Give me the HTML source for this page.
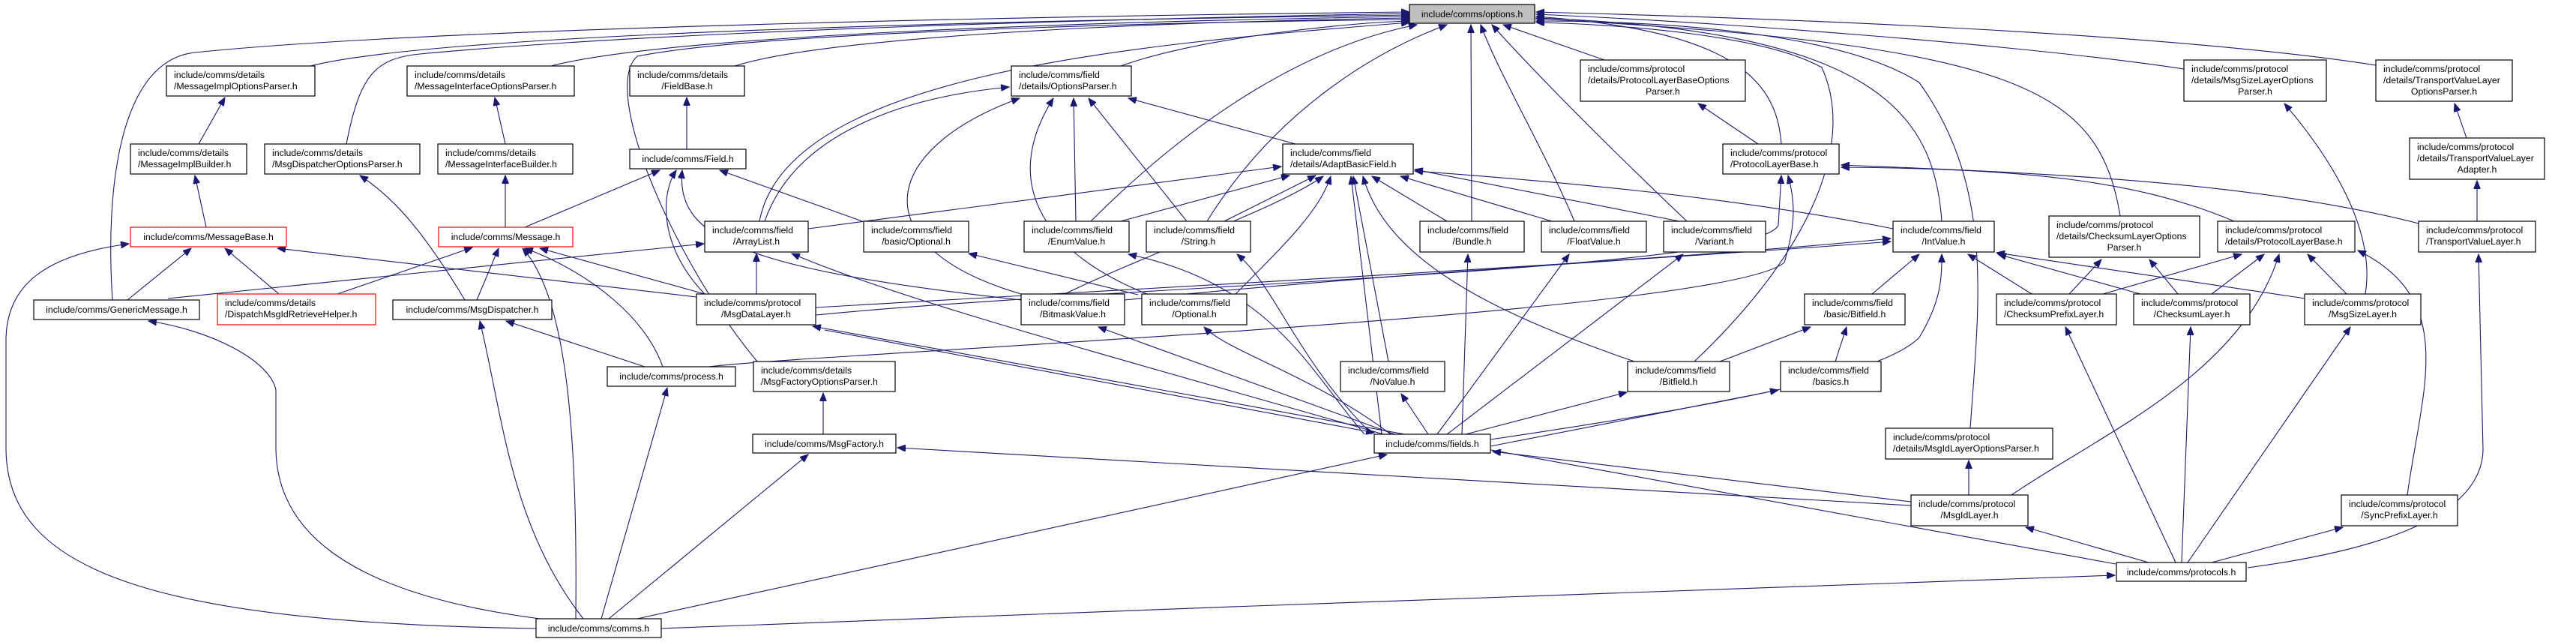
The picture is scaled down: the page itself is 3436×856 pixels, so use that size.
<!DOCTYPE html>
<html><head><meta charset="utf-8"><style>
html,body{margin:0;padding:0;background:#fff;}
svg{display:block;}
text{font-family:"Liberation Sans",Arial,sans-serif;font-size:12.3px;fill:#000;}
.e{fill:none;stroke:#191970;stroke-width:1.1;marker-end:url(#ah);}
.n{fill:#fff;stroke:#000;stroke-width:1.2;}
.r{fill:#fff;stroke:#ff0000;stroke-width:1.2;}
.g{fill:#bfbfbf;stroke:#000;stroke-width:1.2;}
</style></head><body>
<svg width="3436" height="856" viewBox="0 0 3436 856" xmlns="http://www.w3.org/2000/svg">
<defs><marker id="ah" markerWidth="12" markerHeight="9" refX="11" refY="4.5" orient="auto" markerUnits="userSpaceOnUse"><path d="M0,0 L11,4.5 L0,9 z" fill="#191970" stroke="#191970"/></marker></defs>
<g>
<path class="e" d="M414,88 C600,40 1500,25 1880,20"/>
<path class="e" d="M735,88 C900,45 1500,28 1880,22"/>
<path class="e" d="M980,88 C1100,50 1500,30 1880,24"/>
<path class="e" d="M462,192 C480,100 500,78 560,72 C900,40 1500,25 1880,18"/>
<path class="e" d="M150,400 C140,250 160,80 260,70 C600,35 1500,20 1880,16"/>
<path class="e" d="M1010,482 C900,350 800,120 850,75 C1000,45 1500,30 1880,26"/>
<path class="e" d="M1495,88 C1600,50 1800,30 1880,28"/>
<path class="e" d="M1013,295 C1050,100 1500,60 1880,30"/>
<path class="e" d="M1455,295 C1600,150 1750,60 1890,33"/>
<path class="e" d="M1610,295 C1700,150 1830,70 1930,33"/>
<path class="e" d="M1963,295 L1962,33"/>
<path class="e" d="M2100,295 C2060,200 2000,100 1975,33"/>
<path class="e" d="M2250,295 C2150,200 2050,100 1990,33"/>
<path class="e" d="M2140,80 L2005,33"/>
<path class="e" d="M2376,192 C2370,100 2300,40 2049,22"/>
<path class="e" d="M2590,295 C2580,150 2500,40 2049,24"/>
<path class="e" d="M2828,288 C2800,120 2700,60 2049,25"/>
<path class="e" d="M2913,92 C2700,60 2300,30 2049,19"/>
<path class="e" d="M3169,87 C2900,45 2400,25 2049,16"/>
<path class="e" d="M2628,571 C2640,400 2660,250 2560,110 C2450,40 2200,28 2049,28"/>
<path class="e" d="M2260,482 C2400,350 2480,200 2430,90 C2350,45 2150,32 2049,30"/>
<path class="e" d="M265,192 L300,130"/>
<path class="e" d="M275,303 L260,234"/>
<path class="e" d="M674,192 L660,130"/>
<path class="e" d="M674,303 L674,234"/>
<path class="e" d="M916,199 L916,130"/>
<path class="e" d="M700,303 L880,227"/>
<path class="e" d="M1150,295 L960,227"/>
<path class="e" d="M940,392 C880,330 880,260 902,227"/>
<path class="e" d="M1362,400 C1000,360 900,320 910,227"/>
<path class="e" d="M224,398 L939,325"/>
<path class="e" d="M1009,392 L1009,338"/>
<path class="e" d="M1845,579 C1500,480 1200,400 1056,338"/>
<path class="e" d="M1020,295 C1060,180 1200,130 1346,116"/>
<path class="e" d="M170,400 L255,331"/>
<path class="e" d="M372,392 L300,331"/>
<path class="e" d="M929,396 L370,331"/>
<path class="e" d="M715,838 C200,830 10,760 8,600 L8,450 C10,380 60,340 172,325"/>
<path class="e" d="M450,392 L630,330"/>
<path class="e" d="M636,400 L665,331"/>
<path class="e" d="M884,489 C860,420 780,360 700,331"/>
<path class="e" d="M768,825 C770,600 760,400 697,331"/>
<path class="e" d="M940,392 L720,331"/>
<path class="e" d="M620,400 C560,300 520,260 480,234"/>
<path class="e" d="M860,489 L675,428"/>
<path class="e" d="M778,825 C680,700 670,550 640,428"/>
<path class="e" d="M720,825 C450,790 370,700 368,600 L368,520 C360,480 280,440 198,428"/>
<path class="e" d="M802,825 L890,517"/>
<path class="e" d="M945,489 C1100,470 2300,420 2380,350 C2395,300 2395,270 2385,234"/>
<path class="e" d="M1088,420 C1500,380 2350,360 2372,300 L2376,234"/>
<path class="e" d="M1098,579 L1098,524"/>
<path class="e" d="M2549,674 L1197,597"/>
<path class="e" d="M812,825 L1078,606"/>
<path class="e" d="M850,825 L1850,606"/>
<path class="e" d="M882,838 C1500,815 2500,775 2821,767"/>
<path class="e" d="M2822,752 L1084,435"/>
<path class="e" d="M2549,669 L1991,602"/>
<path class="e" d="M1100,440 L1833,577"/>
<path class="e" d="M2626,660 L2626,614"/>
<path class="e" d="M2866,750 L2702,703"/>
<path class="e" d="M2683,660 C2800,580 2990,500 3040,339"/>
<path class="e" d="M3211,660 C3230,520 3280,400 3145,334"/>
<path class="e" d="M2950,750 L3125,703"/>
<path class="e" d="M2902,750 L2755,436"/>
<path class="e" d="M2910,750 L2922,436"/>
<path class="e" d="M2918,750 L3135,436"/>
<path class="e" d="M2998,757 C3200,730 3310,680 3312,600 L3306,339"/>
<path class="e" d="M3304,295 L3304,241"/>
<path class="e" d="M3290,184 L3274,138"/>
<path class="e" d="M3226,298 C3000,240 2700,230 2456,220"/>
<path class="e" d="M2980,295 C2850,240 2700,225 2456,223"/>
<path class="e" d="M2345,192 L2265,138"/>
<path class="e" d="M3155,392 C3170,300 3100,200 3047,138"/>
<path class="e" d="M2710,392 L2625,339"/>
<path class="e" d="M2855,392 L2665,339"/>
<path class="e" d="M3075,398 L2663,337"/>
<path class="e" d="M2805,392 L2990,339"/>
<path class="e" d="M2950,392 L3020,339"/>
<path class="e" d="M3130,392 L3078,339"/>
<path class="e" d="M2760,392 L2803,346"/>
<path class="e" d="M2905,392 L2867,346"/>
<path class="e" d="M2497,392 L2560,339"/>
<path class="e" d="M2294,482 L2415,436"/>
<path class="e" d="M2448,482 L2463,436"/>
<path class="e" d="M1988,595 L2372,520"/>
<path class="e" d="M1955,579 L2170,523"/>
<path class="e" d="M1905,579 L1869,525"/>
<path class="e" d="M1860,579 L1465,436"/>
<path class="e" d="M1855,579 C1750,500 1640,470 1606,436"/>
<path class="e" d="M1820,579 C1750,500 1700,380 1505,339"/>
<path class="e" d="M1830,579 C1730,480 1700,380 1650,339"/>
<path class="e" d="M1950,579 L1958,339"/>
<path class="e" d="M1917,579 L2093,339"/>
<path class="e" d="M1930,579 L2245,339"/>
<path class="e" d="M1988,586 C2300,540 2510,500 2560,450 C2590,400 2590,370 2590,339"/>
<path class="e" d="M1088,410 C1600,380 2200,350 2522,318"/>
<path class="e" d="M1500,400 C1900,360 2300,340 2522,322"/>
<path class="e" d="M2525,305 C2300,260 2050,240 1887,228"/>
<path class="e" d="M2240,295 L1887,226"/>
<path class="e" d="M2070,295 L1868,235"/>
<path class="e" d="M1930,295 L1830,235"/>
<path class="e" d="M1852,482 L1805,235"/>
<path class="e" d="M2180,482 C2000,420 1850,350 1818,235"/>
<path class="e" d="M1420,392 C1550,330 1700,280 1765,235"/>
<path class="e" d="M1648,392 C1720,320 1760,280 1775,235"/>
<path class="e" d="M1078,305 L1709,222"/>
<path class="e" d="M1843,579 L1802,235"/>
<path class="e" d="M1495,295 L1720,234"/>
<path class="e" d="M1633,295 L1755,234"/>
<path class="e" d="M1435,295 L1432,131"/>
<path class="e" d="M1583,295 L1452,131"/>
<path class="e" d="M1728,192 L1505,131"/>
<path class="e" d="M1362,392 C1150,330 1170,200 1360,131"/>
<path class="e" d="M1530,392 C1400,340 1330,250 1405,131"/>
<path class="e" d="M1518,393 L1292,338"/>
</g>
<g>
<rect class="g" x="1880" y="6" width="167" height="25"/><text x="1963.5" y="23" text-anchor="middle">include/comms/options.h</text>
<rect class="n" x="222" y="88" width="198" height="40"/><text x="232" y="104">include/comms/details</text><text x="232" y="119">/MessageImplOptionsParser.h</text>
<rect class="n" x="543" y="88" width="223" height="40"/><text x="553" y="104">include/comms/details</text><text x="553" y="119">/MessageInterfaceOptionsParser.h</text>
<rect class="n" x="840" y="88" width="153" height="40"/><text x="850" y="104">include/comms/details</text><text x="916.5" y="119" text-anchor="middle">/FieldBase.h</text>
<rect class="n" x="1349" y="88" width="160" height="40"/><text x="1359" y="104">include/comms/field</text><text x="1359" y="119">/details/OptionsParser.h</text>
<rect class="n" x="2108" y="80" width="220" height="55"/><text x="2118" y="96">include/comms/protocol</text><text x="2118" y="111">/details/ProtocolLayerBaseOptions</text><text x="2218" y="126" text-anchor="middle">Parser.h</text>
<rect class="n" x="2913" y="80" width="190" height="55"/><text x="2923" y="96">include/comms/protocol</text><text x="2923" y="111">/details/MsgSizeLayerOptions</text><text x="3008" y="126" text-anchor="middle">Parser.h</text>
<rect class="n" x="3169" y="80" width="182" height="55"/><text x="3179" y="96">include/comms/protocol</text><text x="3179" y="111">/details/TransportValueLayer</text><text x="3260" y="126" text-anchor="middle">OptionsParser.h</text>
<rect class="n" x="174" y="192" width="155" height="40"/><text x="184" y="208">include/comms/details</text><text x="184" y="223">/MessageImplBuilder.h</text>
<rect class="n" x="353" y="192" width="207" height="40"/><text x="363" y="208">include/comms/details</text><text x="363" y="223">/MsgDispatcherOptionsParser.h</text>
<rect class="n" x="584" y="192" width="180" height="40"/><text x="594" y="208">include/comms/details</text><text x="594" y="223">/MessageInterfaceBuilder.h</text>
<rect class="n" x="840" y="199" width="155" height="26"/><text x="917.5" y="216" text-anchor="middle">include/comms/Field.h</text>
<rect class="n" x="1711" y="192" width="174" height="40"/><text x="1721" y="208">include/comms/field</text><text x="1721" y="223">/details/AdaptBasicField.h</text>
<rect class="n" x="2298" y="192" width="155" height="40"/><text x="2308" y="208">include/comms/protocol</text><text x="2308" y="223">/ProtocolLayerBase.h</text>
<rect class="n" x="3214" y="184" width="180" height="55"/><text x="3224" y="200">include/comms/protocol</text><text x="3224" y="215">/details/TransportValueLayer</text><text x="3304" y="230" text-anchor="middle">Adapter.h</text>
<rect class="r" x="174" y="303" width="208" height="26"/><text x="278" y="320" text-anchor="middle">include/comms/MessageBase.h</text>
<rect class="r" x="585" y="303" width="179" height="26"/><text x="674.5" y="320" text-anchor="middle">include/comms/Message.h</text>
<rect class="n" x="940" y="295" width="138" height="41"/><text x="950" y="311">include/comms/field</text><text x="1009" y="326" text-anchor="middle">/ArrayList.h</text>
<rect class="n" x="1152" y="295" width="140" height="41"/><text x="1162" y="311">include/comms/field</text><text x="1222" y="326" text-anchor="middle">/basic/Optional.h</text>
<rect class="n" x="1366" y="295" width="140" height="41"/><text x="1376" y="311">include/comms/field</text><text x="1436" y="326" text-anchor="middle">/EnumValue.h</text>
<rect class="n" x="1529" y="295" width="139" height="41"/><text x="1539" y="311">include/comms/field</text><text x="1598.5" y="326" text-anchor="middle">/String.h</text>
<rect class="n" x="1894" y="295" width="139" height="41"/><text x="1904" y="311">include/comms/field</text><text x="1963.5" y="326" text-anchor="middle">/Bundle.h</text>
<rect class="n" x="2056" y="295" width="140" height="41"/><text x="2066" y="311">include/comms/field</text><text x="2126" y="326" text-anchor="middle">/FloatValue.h</text>
<rect class="n" x="2219" y="295" width="136" height="41"/><text x="2229" y="311">include/comms/field</text><text x="2287" y="326" text-anchor="middle">/Variant.h</text>
<rect class="n" x="2525" y="295" width="135" height="41"/><text x="2535" y="311">include/comms/field</text><text x="2592.5" y="326" text-anchor="middle">/IntValue.h</text>
<rect class="n" x="2733" y="288" width="201" height="55"/><text x="2743" y="304">include/comms/protocol</text><text x="2743" y="319">/details/ChecksumLayerOptions</text><text x="2833.5" y="334" text-anchor="middle">Parser.h</text>
<rect class="n" x="2958" y="295" width="183" height="41"/><text x="2968" y="311">include/comms/protocol</text><text x="2968" y="326">/details/ProtocolLayerBase.h</text>
<rect class="n" x="3226" y="295" width="156" height="41"/><text x="3236" y="311">include/comms/protocol</text><text x="3236" y="326">/TransportValueLayer.h</text>
<rect class="n" x="45" y="400" width="221" height="26"/><text x="155.5" y="417" text-anchor="middle">include/comms/GenericMessage.h</text>
<rect class="r" x="290" y="392" width="211" height="41"/><text x="300" y="408">include/comms/details</text><text x="300" y="423">/DispatchMsgIdRetrieveHelper.h</text>
<rect class="n" x="524" y="400" width="212" height="26"/><text x="630" y="417" text-anchor="middle">include/comms/MsgDispatcher.h</text>
<rect class="n" x="929" y="392" width="159" height="41"/><text x="939" y="408">include/comms/protocol</text><text x="1008.5" y="423" text-anchor="middle">/MsgDataLayer.h</text>
<rect class="n" x="1362" y="392" width="138" height="41"/><text x="1372" y="408">include/comms/field</text><text x="1431" y="423" text-anchor="middle">/BitmaskValue.h</text>
<rect class="n" x="1523" y="392" width="140" height="41"/><text x="1533" y="408">include/comms/field</text><text x="1593" y="423" text-anchor="middle">/Optional.h</text>
<rect class="n" x="2407" y="392" width="134" height="41"/><text x="2417" y="408">include/comms/field</text><text x="2474" y="423" text-anchor="middle">/basic/Bitfield.h</text>
<rect class="n" x="2663" y="392" width="160" height="41"/><text x="2673" y="408">include/comms/protocol</text><text x="2673" y="423">/ChecksumPrefixLayer.h</text>
<rect class="n" x="2846" y="392" width="155" height="41"/><text x="2856" y="408">include/comms/protocol</text><text x="2923.5" y="423" text-anchor="middle">/ChecksumLayer.h</text>
<rect class="n" x="3074" y="392" width="155" height="41"/><text x="3084" y="408">include/comms/protocol</text><text x="3151.5" y="423" text-anchor="middle">/MsgSizeLayer.h</text>
<rect class="n" x="810" y="489" width="171" height="26"/><text x="895.5" y="506" text-anchor="middle">include/comms/process.h</text>
<rect class="n" x="1005" y="482" width="189" height="40"/><text x="1015" y="498">include/comms/details</text><text x="1015" y="513">/MsgFactoryOptionsParser.h</text>
<rect class="n" x="1788" y="482" width="139" height="40"/><text x="1798" y="498">include/comms/field</text><text x="1857.5" y="513" text-anchor="middle">/NoValue.h</text>
<rect class="n" x="2171" y="482" width="136" height="40"/><text x="2181" y="498">include/comms/field</text><text x="2239" y="513" text-anchor="middle">/Bitfield.h</text>
<rect class="n" x="2375" y="482" width="134" height="40"/><text x="2385" y="498">include/comms/field</text><text x="2442" y="513" text-anchor="middle">/basics.h</text>
<rect class="n" x="1004" y="579" width="191" height="25"/><text x="1099.5" y="596" text-anchor="middle">include/comms/MsgFactory.h</text>
<rect class="n" x="1833" y="579" width="155" height="25"/><text x="1910.5" y="596" text-anchor="middle">include/comms/fields.h</text>
<rect class="n" x="2515" y="571" width="223" height="41"/><text x="2525" y="587">include/comms/protocol</text><text x="2525" y="602">/details/MsgIdLayerOptionsParser.h</text>
<rect class="n" x="2549" y="660" width="156" height="41"/><text x="2559" y="676">include/comms/protocol</text><text x="2627" y="691" text-anchor="middle">/MsgIdLayer.h</text>
<rect class="n" x="3123" y="660" width="155" height="41"/><text x="3133" y="676">include/comms/protocol</text><text x="3200.5" y="691" text-anchor="middle">/SyncPrefixLayer.h</text>
<rect class="n" x="2823" y="750" width="173" height="25"/><text x="2909.5" y="767" text-anchor="middle">include/comms/protocols.h</text>
<rect class="n" x="715" y="825" width="167" height="25"/><text x="798.5" y="842" text-anchor="middle">include/comms/comms.h</text>
</g>
</svg>
</body></html>
